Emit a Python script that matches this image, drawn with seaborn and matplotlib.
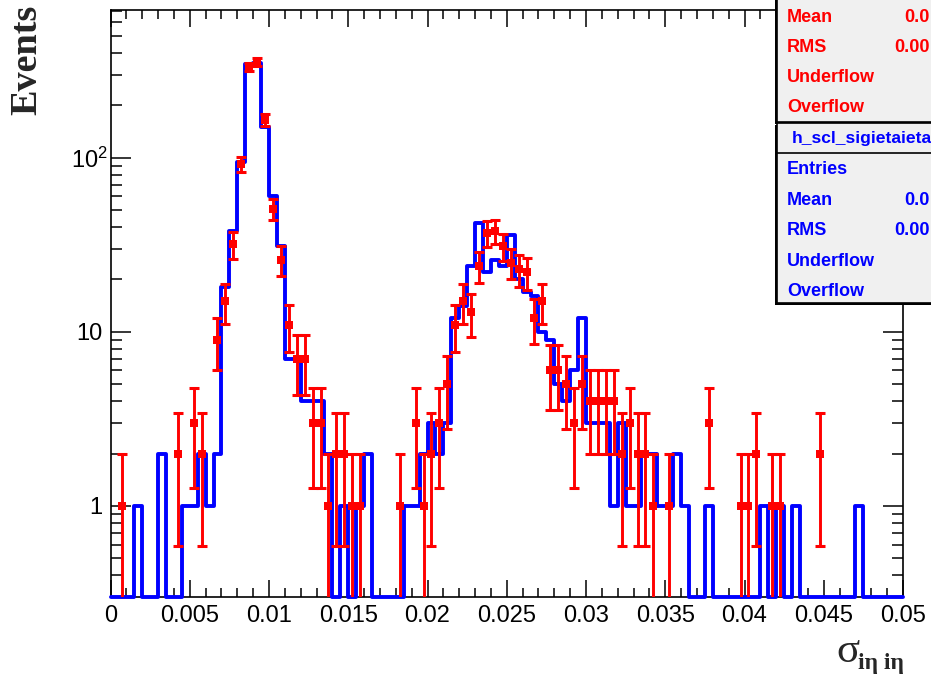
import numpy as np
import pandas as pd
import matplotlib
matplotlib.use("Agg")
import matplotlib.pyplot as plt
import seaborn as sns
from matplotlib.patches import Rectangle
from matplotlib.lines import Line2D
from matplotlib.transforms import ScaledTranslation
from matplotlib.ticker import FixedLocator, FixedFormatter, MultipleLocator, LogLocator, NullFormatter

# ---------------- data ----------------
x_min, x_max, n_bins = 0.0, 0.05, 100

blue_counts = [0, 0, 0, 1, 0, 0, 2, 0, 0, 1,
               1, 2, 1, 2, 18, 38, 95, 345, 350, 150,
               60, 31, 7, 7, 4, 4, 4, 2, 0, 1,
               0, 1, 2, 0, 0, 0, 0, 1, 1, 2,
               3, 2, 3, 12, 14, 24, 42, 22, 26, 24,
               36, 20, 17, 16, 10, 9, 5, 4, 6, 12,
               3, 3, 3, 1, 3, 1, 1, 2, 2, 1,
               1, 2, 1, 0, 0, 1, 0, 0, 0, 0,
               0, 0, 1, 0, 1, 0, 1, 0, 0, 0,
               0, 0, 0, 0, 1, 0, 0, 0, 0, 0]

red_counts = [0, 1, 0, 0, 0, 0, 0, 0, 2, 0,
              3, 2, 0, 9, 15, 32, 92, 333, 356, 165,
              51, 26, 11, 7, 7, 3, 3, 1, 2, 2,
              1, 1, 0, 0, 0, 0, 1, 0, 3, 1,
              2, 3, 5, 11, 15, 13, 24, 37, 38, 31,
              25, 23, 22, 12, 15, 6, 6, 5, 3, 5,
              4, 4, 4, 4, 2, 3, 2, 2, 1, 0,
              1, 0, 0, 0, 0, 3, 0, 0, 0, 1,
              1, 2, 0, 1, 1, 0, 0, 0, 0, 2,
              0, 0, 0, 0, 0, 0, 0, 0, 0, 0]

x_tick_values = [0, 0.005, 0.01, 0.015, 0.02, 0.025, 0.03, 0.035, 0.04, 0.045, 0.05]
x_tick_labels = ["0", "0.005", "0.01", "0.015", "0.02", "0.025", "0.03",
                 "0.035", "0.04", "0.045", "0.05"]
y_tick_values = [1, 10, 100]
y_tick_labels = ["1", "10", "$10^2$"]
y_range = (0.3, 706)

red_stats_labels = ["Mean", "RMS", "Underflow", "Overflow"]
red_stats_values = ["0.0", "0.00", "", ""]
blue_title = "h_scl_sigietaieta"
blue_stats_labels = ["Entries", "Mean", "RMS", "Underflow", "Overflow"]
blue_stats_values = ["", "0.0", "0.00", "", ""]

# ---------------- style ----------------
sns.set_style("ticks")
plt.rcParams['font.family'] = ['Liberation Sans', 'DejaVu Sans']
plt.rcParams['mathtext.fontset'] = 'custom'
plt.rcParams['mathtext.rm'] = 'Liberation Sans'
plt.rcParams['mathtext.it'] = 'Liberation Sans'

W, H = 931, 677
fig = plt.figure(figsize=(W / 100, H / 100), dpi=100)
fig.patch.set_facecolor("white")
ax = fig.add_axes([110.5 / W, 1 - 597 / H, (903 - 110.5) / W, (597 - 10) / H])
ax.set_facecolor("white")

width = (x_max - x_min) / n_bins
centers = x_min + width * (np.arange(n_bins) + 0.5)
df = pd.DataFrame({"x": centers,
                   "blue": np.array(blue_counts, float),
                   "red": np.array(red_counts, float)})
df["blue_draw"] = np.maximum(df["blue"], y_range[0])

# blue histogram (step line)
sns.histplot(data=df, x="x", weights="blue_draw", bins=n_bins, binrange=(x_min, x_max),
             element="step", fill=False, color="#0000ff", linewidth=2.8, ax=ax)
for ln in ax.lines:
    ln.set_clip_on(False)
    ln.set_zorder(3)

ax.set_yscale("log", nonpositive="clip")

# red points with Poisson errors
pts = df[df["red"] > 0]
ax.errorbar(pts["x"], pts["red"], yerr=np.sqrt(pts["red"]), fmt="none",
            ecolor="#ff0000", elinewidth=2.1, capsize=3.3, capthick=2.2, zorder=4)
sns.scatterplot(x=pts["x"], y=pts["red"], marker="s", s=36, color="#ff0000",
                linewidth=0, ax=ax, zorder=5)

ax.set_xlim(x_min, x_max)
ax.set_ylim(*y_range)
ax.set_xlabel("")
ax.set_ylabel("")

# ticks
ax.xaxis.set_major_locator(FixedLocator(x_tick_values))
ax.xaxis.set_major_formatter(FixedFormatter(x_tick_labels))
ax.xaxis.set_minor_locator(MultipleLocator(0.001))
ax.yaxis.set_major_locator(FixedLocator(y_tick_values))
ax.yaxis.set_major_formatter(FixedFormatter(y_tick_labels))
ax.yaxis.set_minor_locator(LogLocator(base=10, subs=np.arange(2, 10), numticks=30))
ax.yaxis.set_minor_formatter(NullFormatter())
ax.tick_params(which="both", direction="in", top=True, right=True, color="black",
               width=1.1, labelsize=17, labelcolor="black")
ax.tick_params(axis="x", which="major", length=12, pad=6)
ax.tick_params(axis="x", which="minor", length=6.3)
ax.tick_params(axis="y", which="major", length=14.5, pad=6)
ax.tick_params(axis="y", which="minor", length=8)
for sp in ax.spines.values():
    sp.set_visible(True)
    sp.set_color("black")
    sp.set_linewidth(1.2)

# shift the 10^2 label a little to the right, as in the original
fig.canvas.draw()
lab100 = ax.yaxis.get_majorticklabels()[2]
lab100.set_transform(lab100.get_transform() + ScaledTranslation(6 / 100, 0, fig.dpi_scale_trans))

# axis titles
fig.text(27 / W, 1 - 60 / H, "Events", rotation=90, ha="center", va="center",
         family=["Liberation Serif", "DejaVu Serif"], weight="bold", size=27.5)
fig.text(836 / W, 1 - 661.5 / H, "σ", ha="left", va="baseline",
         family=["Liberation Serif", "DejaVu Serif"], size=31)
fig.text(857.5 / W, 1 - 669.5 / H, "iη iη", ha="left", va="baseline",
         family=["Liberation Serif", "DejaVu Serif"], weight="bold", size=17)

# stats boxes
def fx(px):
    return px / W

def fy(py):
    return 1 - py / H

box_left = 777
for (top, bottom) in [(-150, 121.5), (122.5, 303)]:
    shadow = Rectangle((fx(box_left - 2), fy(bottom + 2.5)), fx(400), (bottom - top) / H,
                       transform=fig.transFigure, facecolor="black", edgecolor="none",
                       zorder=10)
    fig.add_artist(shadow)
    box = Rectangle((fx(box_left), fy(bottom)), fx(400), (bottom - top) / H,
                    transform=fig.transFigure, facecolor="#f0f0f0", edgecolor="black",
                    linewidth=1.2, zorder=11)
    fig.add_artist(box)

fig.add_artist(Line2D([fx(box_left), fx(960)], [fy(152.7), fy(152.7)],
                      transform=fig.transFigure, color="black", linewidth=1.2, zorder=12))

txt_kw = dict(va="center", weight="bold", size=13, zorder=13,
              family=["Liberation Sans", "DejaVu Sans"])
red_rows = [17.5, 47.5, 77.5, 107.5]
for lab, val, yy in zip(red_stats_labels, red_stats_values, red_rows):
    fig.text(fx(787), fy(yy), lab, color="#ff0000", ha="left", **txt_kw)
    if val:
        fig.text(fx(929.5), fy(yy), val, color="#ff0000", ha="right", **txt_kw)

fig.text(fx(791.5), fy(138.5), blue_title, color="#0000ff", ha="left",
         **{**txt_kw, "size": 12.6})
blue_rows = [169.5, 200.5, 230.5, 261.5, 291.5]
for lab, val, yy in zip(blue_stats_labels, blue_stats_values, blue_rows):
    fig.text(fx(787), fy(yy), lab, color="#0000ff", ha="left", **txt_kw)
    if val:
        fig.text(fx(929.5), fy(yy), val, color="#0000ff", ha="right", **txt_kw)

fig.savefig("out.png", dpi=100)
